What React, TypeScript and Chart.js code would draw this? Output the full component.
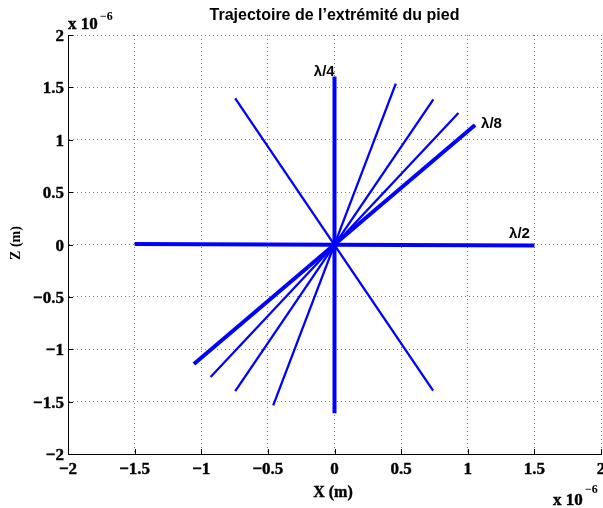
import React, { useEffect, useRef } from 'react';
import { Chart, registerables } from 'chart.js';

Chart.register(...registerables);

// ---- data (values in units of 1e-6 m) ----
const TITLE = 'Trajectoire de l’extrémité du pied';
const X_LABEL = 'X (m)';
const Y_LABEL = 'Z (m)';
const segmentNames = ['λ/2', 'λ/4', 'λ/8', 'seg4', 'seg5', 'seg6', 'seg7'];
const xStart = [-1.5, 0, -1.055, -0.93, -0.745, -0.46, -0.745];
const yStart = [0.005, -1.61, -1.14, -1.265, -1.4, -1.535, 1.395];
const xEnd = [1.5, 0, 1.055, 0.93, 0.742, 0.46, 0.74];
const yEnd = [-0.01, 1.605, 1.14, 1.255, 1.386, 1.535, -1.395];
const xTicks = [-2, -1.5, -1, -0.5, 0, 0.5, 1, 1.5, 2];
const yTicks = [-2, -1.5, -1, -0.5, 0, 0.5, 1, 1.5, 2];
const annotationTexts = ['λ/4', 'λ/8', 'λ/2'];
const annotationX = [-0.155, 1.1, 1.31];
const annotationY = [1.605, 1.11, 0.062];

// ---- styles ----
const lineWidths = [4, 4, 4, 2.3, 2.3, 2.3, 2.3];
const SERIF = '"Liberation Serif", "Times New Roman", serif';
const SANS = '"Liberation Sans", Arial, sans-serif';

const fmt = (v: number) => String(v).replace('-', '\u2212');

const textPlugin = {
  id: 'matlabTexts',
  afterDraw(chart: any) {
    const { ctx, chartArea: ca, scales } = chart;
    const xs = scales.x;
    const ys = scales.y;
    ctx.save();
    // inward ticks
    ctx.strokeStyle = '#000';
    ctx.lineWidth = 1;
    ctx.beginPath();
    xTicks.forEach((v) => {
      const px = Math.round(xs.getPixelForValue(v)) + 0.5;
      ctx.moveTo(px, ca.bottom);
      ctx.lineTo(px, ca.bottom - 5);
    });
    yTicks.forEach((v) => {
      const py = Math.round(ys.getPixelForValue(v)) + 0.5;
      ctx.moveTo(ca.left, py);
      ctx.lineTo(ca.left + 5, py);
    });
    ctx.stroke();

    ctx.fillStyle = '#000';
    ctx.strokeStyle = '#000';
    ctx.lineWidth = 0.4;
    ctx.textBaseline = 'alphabetic';
    const heavy = (t: string, x: number, y: number) => {
      ctx.fillText(t, x, y);
      ctx.strokeText(t, x, y);
    };
    // tick labels
    ctx.font = `bold 17px ${SERIF}`;
    ctx.textAlign = 'center';
    xTicks.forEach((v) => {
      heavy(fmt(v), xs.getPixelForValue(v), ca.bottom + 20);
    });
    ctx.textAlign = 'right';
    yTicks.forEach((v) => {
      heavy(fmt(v), ca.left - 4, ys.getPixelForValue(v) + 6);
    });
    // title
    ctx.textAlign = 'center';
    ctx.font = `bold 16px ${SANS}`;
    ctx.fillText(TITLE, (ca.left + ca.right) / 2, 20);
    // x label
    ctx.font = `bold 16px ${SERIF}`;
    heavy(X_LABEL, 333, 497);
    // y label
    ctx.save();
    ctx.translate(20, 243);
    ctx.rotate(-Math.PI / 2);
    ctx.font = `bold 14px ${SERIF}`;
    ctx.fillText(Y_LABEL, 0, 0);
    ctx.restore();
    // exponents
    ctx.textAlign = 'left';
    ctx.font = `bold 17px ${SERIF}`;
    heavy('x 10', 68, 29);
    heavy('x 10', 553, 505);
    ctx.font = `bold 12px ${SERIF}`;
    ctx.fillText('\u22126', 100, 20);
    ctx.fillText('\u22126', 585, 493);
    // annotations
    ctx.font = `bold 15px ${SANS}`;
    annotationTexts.forEach((t, i) => {
      ctx.fillText(t, xs.getPixelForValue(annotationX[i]), ys.getPixelForValue(annotationY[i]));
    });
    ctx.restore();
  },
};

export default function App() {
  const ref = useRef<HTMLCanvasElement | null>(null);
  useEffect(() => {
    document.body.style.margin = '0';
    const canvas = ref.current!;
    const datasets = segmentNames.map((name, i) => ({
      label: name,
      data: [
        { x: xStart[i], y: yStart[i] },
        { x: xEnd[i], y: yEnd[i] },
      ],
      showLine: true,
      borderColor: '#0000ff',
      backgroundColor: '#0000ff',
      borderWidth: lineWidths[i],
      pointRadius: 0,
      fill: false,
      borderCapStyle: 'butt' as const,
    }));
    const gridOpts = {
      color: '#777',
      lineWidth: 1,
      drawTicks: false,
    };
    const chart = new Chart(canvas, {
      type: 'scatter',
      data: { datasets },
      plugins: [textPlugin],
      options: {
        responsive: false,
        animation: false,
        devicePixelRatio: 1,
        layout: { padding: { left: 0, right: 2, top: 35, bottom: 0 } },
        plugins: { legend: { display: false }, tooltip: { enabled: false }, title: { display: false } },
        scales: {
          x: {
            type: 'linear',
            min: -2,
            max: 2,
            afterBuildTicks: (s: any) => {
              s.ticks = xTicks.map((v) => ({ value: v }));
            },
            afterFit: (s: any) => {
              s.height = 54;
              s.paddingLeft = 0;
              s.paddingRight = 0;
            },
            ticks: { display: false, autoSkip: false },
            grid: gridOpts,
            border: { display: true, color: '#000', width: 1, dash: [1, 3] },
          },
          y: {
            type: 'linear',
            min: -2,
            max: 2,
            afterBuildTicks: (s: any) => {
              s.ticks = yTicks.map((v) => ({ value: v }));
            },
            afterFit: (s: any) => {
              s.width = 68;
              s.paddingTop = 0;
              s.paddingBottom = 0;
            },
            ticks: { display: false, autoSkip: false },
            grid: gridOpts,
            border: { display: true, color: '#000', width: 1, dash: [1, 3] },
          },
        },
      } as any,
    });
    return () => chart.destroy();
  }, []);
  return (
    <div style={{ width: 603, height: 508, position: 'relative' }}>
      <canvas ref={ref} width={603} height={508} style={{ width: 603, height: 508, display: 'block' }} />
    </div>
  );
}
